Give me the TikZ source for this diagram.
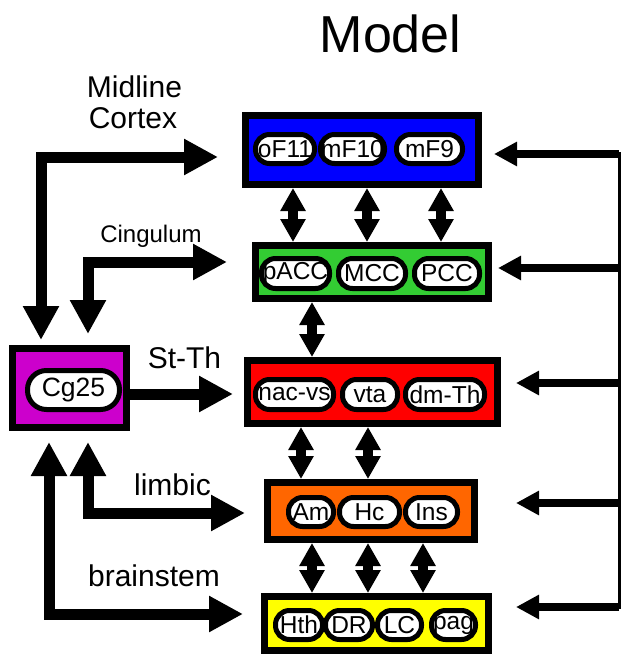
\documentclass[tikz,border=0pt]{standalone}
\usepackage{fontspec}
\setmainfont{Liberation Sans}
\usetikzlibrary{arrows.meta}
\definecolor{cblue}{HTML}{0000FF}
\definecolor{cgreen}{HTML}{33CC33}
\definecolor{cred}{HTML}{FF0000}
\definecolor{corange}{HTML}{FF6600}
\definecolor{cyellow}{HTML}{FFFF00}
\definecolor{cmag}{HTML}{CC00CC}
\begin{document}
\begin{tikzpicture}[x=1pt,y=-1pt,
  regionbox/.style={draw=black, line width=7pt, inner sep=0pt},
  pill/.style={draw=black, fill=white, line width=5pt, rounded corners=14pt, inner sep=0pt, minimum height=29pt, font=\fontsize{24.5}{24.5}\selectfont},
  lbl/.style={anchor=base, inner sep=0pt, font=\fontsize{30}{30}\selectfont},
  bigarrow/.style={line width=11pt, line join=miter, arrows={Triangle[length=34pt,width=34pt]-Triangle[length=34pt,width=34pt]}},
  onearrow/.style={line width=11pt, arrows={-Triangle[length=34pt,width=34pt]}},
  dblarrow/.style={line width=10pt, arrows={Triangle[length=23pt,width=24pt]-Triangle[length=23pt,width=24pt]}},
  rarrow/.style={line width=8.5pt, arrows={-Triangle[length=23pt,width=23pt]}}
]
\useasboundingbox (0,0) rectangle (622,656);

% region boxes
\node[regionbox, fill=cblue, minimum width=233pt, minimum height=69pt] (blue) at (362,150) {};
\node[regionbox, fill=cgreen, minimum width=233pt, minimum height=53pt] (green) at (372,272) {};
\node[regionbox, fill=cred, minimum width=250pt, minimum height=63pt] (red) at (372.5,392) {};
\node[regionbox, fill=corange, minimum width=207pt, minimum height=57pt] (orange) at (371,511) {};
\node[regionbox, fill=cyellow, minimum width=224pt, minimum height=54pt] (yellow) at (376.5,623.5) {};
\node[regionbox, fill=cmag, minimum width=114pt, minimum height=79pt] (cg) at (69.5,388) {};

% pills
\node[pill, minimum width=59pt] (oF11) at (285,149) {oF11};
\node[pill, minimum width=64pt] (mF10) at (352.5,149) {mF10};
\node[pill, minimum width=66pt] (mF9) at (429.5,149) {mF9};
\node[pill, minimum width=68pt, minimum height=30pt] (pACC) at (295.5,273.5) {pACC};
\node[pill, minimum width=67pt, minimum height=30pt] (MCC) at (372,273.5) {MCC};
\node[pill, minimum width=65pt, minimum height=30pt] (PCC) at (447,273.5) {PCC};
\node[pill, minimum width=78pt, minimum height=30pt] (nacvs) at (294.5,394.5) {nac-vs};
\node[pill, minimum width=55pt, minimum height=30pt] (vta) at (370,394.5) {vta};
\node[pill, minimum width=79pt, minimum height=30pt] (dmTh) at (445,394.5) {dm-Th};
\node[pill, minimum width=45pt] (Am) at (311,512) {Am};
\node[pill, minimum width=60pt] (Hc) at (369.5,512) {Hc};
\node[pill, minimum width=52pt] (Ins) at (431.5,512) {Ins};
\node[pill, minimum width=47pt] (Hth) at (299,625) {Hth};
\node[pill, minimum width=47pt] (DR) at (349,625) {DR};
\node[pill, minimum width=44pt] (LC) at (399.5,625) {LC};
\node[pill, minimum width=44pt] (pag) at (453.5,625) {pag};
\node[pill, minimum width=92pt, minimum height=39pt, rounded corners=19pt, font=\fontsize{26.5}{26.5}\selectfont] (cg25) at (73.5,390) {Cg25};

% labels
\node[lbl, font=\fontsize{52}{52}\selectfont] (title) at (390.5,52) {Model};
\node[lbl] (midline) at (134.5,97) {Midline};
\node[lbl] (cortex) at (133,128) {Cortex};
\node[lbl, font=\fontsize{24}{24}\selectfont] (cingulum) at (151,242) {Cingulum};
\node[lbl] (stth) at (184.5,368) {St-Th};
\node[lbl] (limbic) at (172.5,495) {limbic};
\node[lbl] (brainstem) at (154,586) {brainstem};

% vertical double arrows between regions
\draw[dblarrow] ([xshift=-69pt]blue.south) -- ([xshift=-69pt]blue.south |- green.north);
\draw[dblarrow] ([xshift=5pt]blue.south) -- ([xshift=5pt]blue.south |- green.north);
\draw[dblarrow] ([xshift=79pt]blue.south) -- ([xshift=79pt]blue.south |- green.north);
\draw[dblarrow] ([xshift=-60pt]green.south) -- ([xshift=-60pt]green.south |- red.north);
\draw[dblarrow] ([xshift=-71.5pt]red.south) -- ([xshift=-71.5pt]red.south |- orange.north);
\draw[dblarrow] ([xshift=-4.5pt]red.south) -- ([xshift=-4.5pt]red.south |- orange.north);
\draw[dblarrow] ([xshift=-59pt]orange.south) -- ([xshift=-59pt]orange.south |- yellow.north);
\draw[dblarrow] ([xshift=-3pt]orange.south) -- ([xshift=-3pt]orange.south |- yellow.north);
\draw[dblarrow] ([xshift=52pt]orange.south) -- ([xshift=52pt]orange.south |- yellow.north);

% left connectors from Cg25
\draw[bigarrow] ([xshift=-24pt,yshift=-7pt]blue.west) -| ([xshift=-28.5pt,yshift=5pt]cg.north);
\draw[bigarrow] ([xshift=-25pt,yshift=10pt]green.west) -| ([xshift=18.5pt,yshift=11pt]cg.north);
\draw[onearrow] ([yshift=-6pt]cg.east) -- ([xshift=-11pt,yshift=-2pt]red.west);
\draw[bigarrow] ([xshift=-19pt,yshift=-2pt]orange.west) -| ([xshift=18.5pt,yshift=-11pt]cg.south);
\draw[bigarrow] ([xshift=-18pt,yshift=9.5pt]yellow.west) -| ([xshift=-20.5pt,yshift=-11pt]cg.south);

% right feedback bus
\coordinate (rtop) at (619,152);
\coordinate (rbot) at (619,609);
\coordinate (r1) at (619,154);
\coordinate (r2) at (619,268);
\coordinate (r3) at (619,383);
\coordinate (r4) at (619,503);
\coordinate (r5) at (619,607);
\draw[line width=3pt] (rtop) -- (rbot);
\draw[rarrow] (r1) -- ([xshift=12pt]blue.east |- r1);
\draw[rarrow] (r2) -- ([xshift=6pt]green.east |- r2);
\draw[rarrow] (r3) -- ([xshift=15pt]red.east |- r3);
\draw[rarrow] (r4) -- ([xshift=38pt]orange.east |- r4);
\draw[rarrow] (r5) -- ([xshift=24pt]yellow.east |- r5);
\end{tikzpicture}
\end{document}
